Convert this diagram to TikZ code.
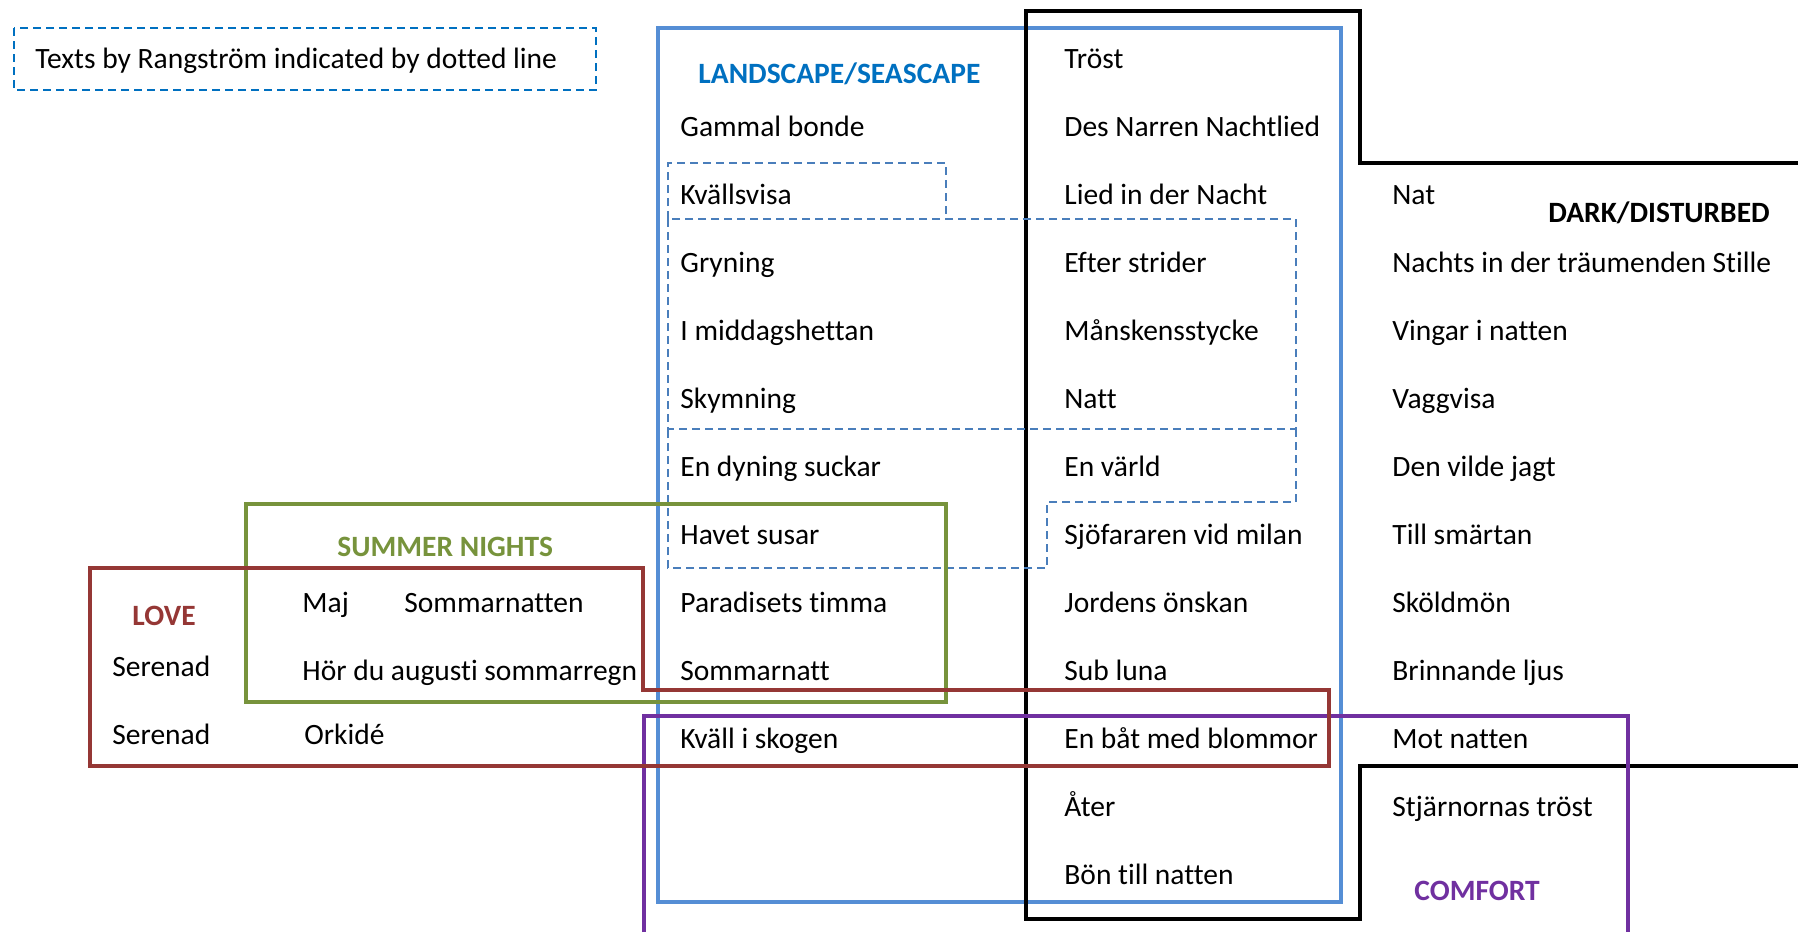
\documentclass[tikz,border=0pt]{standalone}
\usepackage{fontspec}
\setmainfont[Ligatures=NoCommon]{Carlito}
\newcommand\lbfont{\fontsize{14.75}{17}\selectfont}
\definecolor{seablue}{RGB}{85,142,213}
\definecolor{headblue}{RGB}{0,112,192}
\definecolor{dashblue}{RGB}{74,126,187}
\definecolor{olive}{RGB}{119,147,60}
\definecolor{darkred}{RGB}{149,55,53}
\definecolor{violet}{RGB}{112,48,160}
\begin{document}
\begin{tikzpicture}[x=0.5pt,y=-0.5pt,
  lbl/.style={anchor=base west,inner sep=0pt,font=\lbfont},
  hdg/.style={anchor=base west,inner sep=0pt,font=\lbfont\bfseries},
  rangstrom/.style={draw=dashblue,line width=1pt,dash pattern=on 4pt off 2.5pt},
  groupline/.style={line width=1.8pt,line join=miter}]
\useasboundingbox (0,0) rectangle (1798,932);

% legend box
\draw[draw=headblue,line width=1pt,dash pattern=on 4pt off 2.5pt] (14,28) rectangle (596,90);
\node[lbl] (legend) at (35,68) {Texts by Rangström indicated by dotted line};

% landscape / seascape group
\draw[groupline,seablue] (658,28) rectangle (1341,902);
% dark / disturbed group
\draw[groupline,black,line width=2pt] (1798,163) -- (1360,163) -- (1360,11) -- (1026,11)
  -- (1026,919) -- (1360,919) -- (1360,766) -- (1798,766);

% texts set by Rangstrom (shared edges drawn once)
\draw[rangstrom] (668,219) -- (668,163) -- (946,163) -- (946,219);
\draw[rangstrom] (668,219) rectangle (1296,429);
\draw[rangstrom] (1296,429) -- (1296,502) -- (1047,502) -- (1047,568) -- (668,568) -- (668,429);

% summer nights group
\draw[groupline,olive] (246,504) rectangle (946,702);
% comfort group
\draw[groupline,violet] (644,932) -- (644,716) -- (1628,716) -- (1628,932);
% love group
\draw[groupline,darkred] (90,568) -- (643,568) -- (643,690) -- (1329,690) -- (1329,766) -- (90,766) -- cycle;

% headings
\node[hdg,text=headblue] (hland) at (698,83) {LANDSCAPE/SEASCAPE};
\node[hdg,text=black] (hdark) at (1548,222) {DARK/DISTURBED};
\node[hdg,text=olive] (hsummer) at (337,556) {SUMMER NIGHTS};
\node[hdg,text=darkred] (hlove) at (132,625) {LOVE};
\node[hdg,text=violet] (hcomfort) at (1414,900) {COMFORT};

% first column
\node[lbl] (a1) at (680,136) {Gammal bonde};
\node[lbl] (a2) at (680,204) {Kvällsvisa};
\node[lbl] (a3) at (680,272) {Gryning};
\node[lbl] (a4) at (680,340) {I middagshettan};
\node[lbl] (a5) at (680,408) {Skymning};
\node[lbl] (a6) at (680,476) {En dyning suckar};
\node[lbl] (a7) at (680,544) {Havet susar};
\node[lbl] (a8) at (680,612) {Paradisets timma};
\node[lbl] (a9) at (680,680) {Sommarnatt};
\node[lbl] (a10) at (680,748) {Kväll i skogen};

% second column
\node[lbl] (b0) at (1064,68) {Tröst};
\node[lbl] (b1) at (1064,136) {Des Narren Nachtlied};
\node[lbl] (b2) at (1064,204) {Lied in der Nacht};
\node[lbl] (b3) at (1064,272) {Efter strider};
\node[lbl] (b4) at (1064,340) {Månskensstycke};
\node[lbl] (b5) at (1064,408) {Natt};
\node[lbl] (b6) at (1064,476) {En värld};
\node[lbl] (b7) at (1064,544) {Sjöfararen vid milan};
\node[lbl] (b8) at (1064,612) {Jordens önskan};
\node[lbl] (b9) at (1064,680) {Sub luna};
\node[lbl] (b10) at (1064,748) {En båt med blommor};
\node[lbl] (b11) at (1064,816) {Åter};
\node[lbl] (b12) at (1064,884) {Bön till natten};

% third column
\node[lbl] (c2) at (1392,204) {Nat};
\node[lbl] (c3) at (1392,272) {Nachts in der träumenden Stille};
\node[lbl] (c4) at (1392,340) {Vingar i natten};
\node[lbl] (c5) at (1392,408) {Vaggvisa};
\node[lbl] (c6) at (1392,476) {Den vilde jagt};
\node[lbl] (c7) at (1392,544) {Till smärtan};
\node[lbl] (c8) at (1392,612) {Sköldmön};
\node[lbl] (c9) at (1392,680) {Brinnande ljus};
\node[lbl] (c10) at (1392,748) {Mot natten};
\node[lbl] (c11) at (1392,816) {Stjärnornas tröst};

% love / summer nights
\node[lbl] (d1) at (302,612) {Maj};
\node[lbl] (d2) at (404,612) {Sommarnatten};
\node[lbl] (d3) at (302,680) {Hör du augusti sommarregn};
\node[lbl] (e1) at (112,676) {Serenad};
\node[lbl] (e2) at (112,744) {Serenad};
\node[lbl] (e3) at (304,744) {Orkidé};
\end{tikzpicture}
\end{document}
